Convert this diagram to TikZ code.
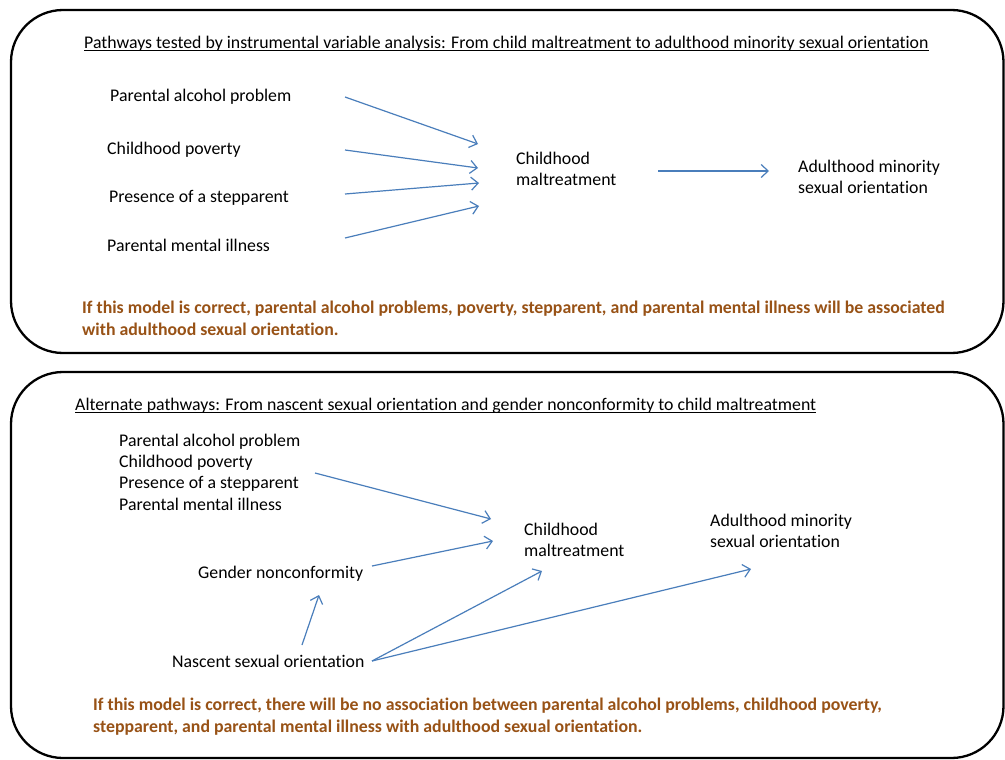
\documentclass[tikz,border=0pt]{standalone}
\usepackage{fontspec}
\setmainfont{Carlito}[Ligatures=NoCommon]
\usetikzlibrary{arrows.meta}
\definecolor{arrowblue}{RGB}{74,126,187}
\definecolor{noteorange}{RGB}{152,82,22}
\newcommand{\uline}[1]{\setbox0\hbox{#1}\leavevmode\rlap{\rule[-2.2pt]{\wd0}{0.9pt}}\box0}
\begin{document}
\begin{tikzpicture}[x=1pt,y=-1pt,
  panel/.style={draw=black,line width=2.3pt,rounded corners=52pt},
  lbl/.style={inner sep=0pt,anchor=west,align=left,font=\fontsize{17.8}{21.5}\selectfont},
  note/.style={inner sep=0pt,anchor=west,align=left,text=noteorange,font=\fontsize{17.8}{22}\selectfont\bfseries},
  link/.style={draw=arrowblue,line width=1.2pt,-{Straight Barb[length=7pt,width=13pt,line width=1.2pt]}}]
\useasboundingbox (0,0) rectangle (1005,760);
\fill[white] (0,0) rectangle (1005,760);
% panels
\draw[panel] (11,10) rectangle (1003.5,353);
\draw[panel] (11,372) rectangle (1003.5,758);

% ---- top panel ----
\node[lbl] (h1) at (84,44) {\uline{Pathways tested by instrumental variable analysis: From child maltreatment to adulthood minority sexual orientation}};
\node[lbl] (pa) at (110,97) {Parental alcohol problem};
\node[lbl] (cp) at (107,150) {Childhood poverty};
\node[lbl] (ps) at (109,198) {Presence of a stepparent};
\node[lbl] (pm) at (107,245) {Parental mental illness};
\node[lbl] (cm) at (516,169) {Childhood\\maltreatment};
\node[lbl] (am) at (798,177) {Adulthood minority\\sexual orientation};
\node[note] (n1) at (82,318) {If this model is correct, parental alcohol problems, poverty, stepparent, and parental mental illness will be associated\\with adulthood sexual orientation.};

\coordinate (pa-o) at (345,97);
\coordinate (cp-o) at (345,150);
\coordinate (ps-o) at (345,194);
\coordinate (pm-o) at (345,238);
\coordinate (cm-i1) at (478,144);
\coordinate (cm-i2) at (478,168);
\coordinate (cm-i3) at (479,183);
\coordinate (cm-i4) at (479,206);
\coordinate (cm-o) at (658,171);
\coordinate (am-i) at (769,171);
\draw[link] (pa-o) -- (cm-i1);
\draw[link] (cp-o) -- (cm-i2);
\draw[link] (ps-o) -- (cm-i3);
\draw[link] (pm-o) -- (cm-i4);
\draw[link] (cm-o) -- (am-i);

% ---- bottom panel ----
\node[lbl] (h2) at (75,406) {\uline{Alternate pathways: From nascent sexual orientation and gender nonconformity to child maltreatment}};
\node[lbl,font=\fontsize{17.8}{21.3}\selectfont] (lst) at (119,472) {Parental alcohol problem\\Childhood poverty\\Presence of a stepparent\\Parental mental illness};
\node[lbl] (cm2) at (524,540) {Childhood\\maltreatment};
\node[lbl] (am2) at (710,531) {Adulthood minority\\sexual orientation};
\node[lbl] (gn) at (198,574) {Gender nonconformity};
\node[lbl] (ns) at (172,661) {Nascent sexual orientation};
\node[note] (n2) at (93,717) {If this model is correct, there will be no association between parental alcohol problems, childhood poverty,\\stepparent, and parental mental illness with adulthood sexual orientation.};

\coordinate (lst-o) at (315,473);
\coordinate (cm2-i1) at (491,519);
\coordinate (gn-o) at (372,566);
\coordinate (cm2-i2) at (493,541);
\coordinate (ns-o1) at (302,645);
\coordinate (gn-i) at (319,595);
\coordinate (ns-o2) at (372,661);
\coordinate (cm2-i3) at (542,571);
\coordinate (am2-i) at (751,569);
\draw[link] (lst-o) -- (cm2-i1);
\draw[link] (gn-o) -- (cm2-i2);
\draw[link] (ns-o1) -- (gn-i);
\draw[link] (ns-o2) -- (cm2-i3);
\draw[link] (ns-o2) -- (am2-i);
\end{tikzpicture}
\end{document}
